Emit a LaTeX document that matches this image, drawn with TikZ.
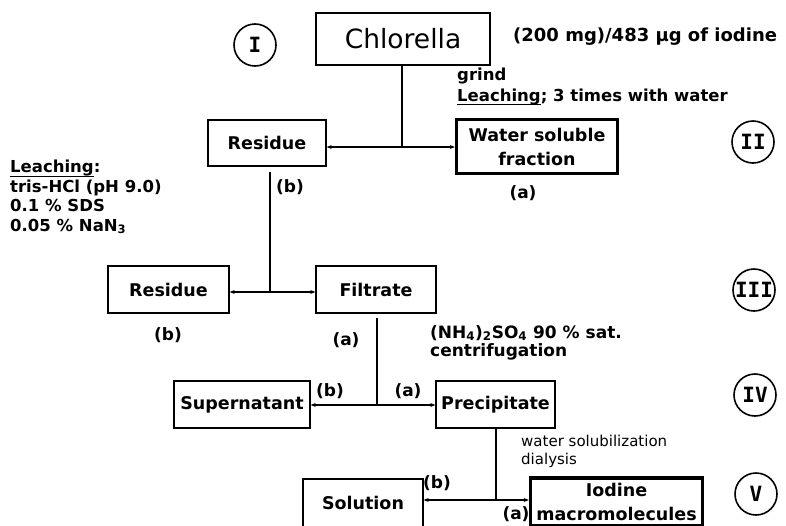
\documentclass[tikz,border=0pt]{standalone}
\usepackage{fontspec}
\setmainfont{DejaVu Sans}
\newfontfamily\numfont{DejaVu Sans Mono}
\usetikzlibrary{arrows.meta}
\newcommand\myul[1]{\setbox0\hbox{#1}\rlap{\rule[-4.2pt]{\wd0}{0.9pt}}\box0}
\begin{document}
\begin{tikzpicture}[x=1pt,y=-1pt,
  box/.style={draw, line width=1.4pt, inner sep=0pt, font=\bfseries\fontsize{17.5}{24}\selectfont, align=center},
  thickbox/.style={box, line width=3.4pt},
  stage/.style={draw, circle, line width=1.6pt, minimum size=42pt, inner sep=0pt, font=\numfont\bfseries\fontsize{21}{22}\selectfont},
  lab/.style={font=\bfseries\fontsize{17}{18}\selectfont, inner sep=0pt},
  note/.style={font=\bfseries\fontsize{16.5}{19.5}\selectfont, inner sep=0pt, anchor=west, align=left},
  thin/.style={font=\fontsize{15}{19}\selectfont, inner sep=0pt, anchor=west, align=left},
  conn/.style={line width=1.1pt},
  darr/.style={conn, {Stealth[length=5pt,width=4pt]}-{Stealth[length=5pt,width=4pt]}}
]
\clip (0,0) rectangle (786,525);
\fill[white] (0,0) rectangle (786,525);

% boxes
\node[box, minimum width=174pt, minimum height=52pt, font=\fontsize{26.5}{30}\selectfont] (chl) at (403,39) {Chlorella};
\node[box, minimum width=118pt, minimum height=46pt] (res1) at (267,143) {Residue};
\node[thickbox, minimum width=161pt, minimum height=54pt] (water) at (537,146.5) {Water soluble\\fraction};
\node[box, minimum width=121pt, minimum height=47pt] (res2) at (168.5,289.5) {Residue};
\node[box, minimum width=120pt, minimum height=47pt] (filt) at (376,289.5) {Filtrate};
\node[box, minimum width=136pt, minimum height=47pt] (sup) at (242,404.5) {Supernatant};
\node[box, minimum width=119pt, minimum height=47pt] (prec) at (495.5,404.5) {Precipitate};
\node[box, minimum width=120pt, minimum height=48pt] (sol) at (363,503) {Solution};
\node[thickbox, minimum width=172pt, minimum height=48pt] (iod) at (616.5,502) {Iodine\\macromolecules};

% stage circles
\node[stage] (s1) at (255,45) {I};
\node[stage] (s2) at (753,142) {II};
\node[stage] (s3) at (754,290) {III};
\node[stage] (s4) at (755,395) {IV};
\node[stage] (s5) at (756,494) {V};

% junctions
\coordinate (j1) at (402,147);
\coordinate (j2) at (270,292);
\coordinate (j3) at (377,405);
\coordinate (j4) at (496,500);
\coordinate (t2) at (270,172);
\coordinate (t3) at (377,318);

\draw[conn] (chl.south -| j1) -- (j1);
\draw[darr] (res1.east |- j1) -- (water.west |- j1);
\draw[conn] (t2) -- (j2);
\draw[darr] (res2.east |- j2) -- (filt.west |- j2);
\draw[conn] (t3) -- (j3);
\draw[darr] (sup.east |- j3) -- (prec.west |- j3);
\draw[conn] (prec.south -| j4) -- (j4);
\draw[darr] (sol.east |- j4) -- (iod.west |- j4);

% texts
\node[note, font=\bfseries\fontsize{18}{20}\selectfont] (iodine) at (513,37) {(200 mg)/483 μg of iodine};
\node[note] (grind) at (457,76) {grind};
\node[note] (leach1) at (457,97) {\myul{Leaching}; 3 times with water};
\node[note, anchor=north west, font=\bfseries\fontsize{16.5}{19.5}\selectfont] (leach2) at (10,160) {\myul{Leaching}:\\tris-HCl (pH 9.0)\\0.1 \% SDS\\0.05 \% NaN\textsubscript{3}};
\node[note, font=\bfseries\fontsize{17}{19.5}\selectfont] (ammo) at (430,333) {(NH\textsubscript{4})\textsubscript{2}SO\textsubscript{4} 90 \% sat.};
\node[note, font=\bfseries\fontsize{17}{19.5}\selectfont] (centri) at (430,352) {centrifugation};
\node[thin] (wsol) at (521,441) {water solubilization};
\node[thin] (dial) at (521,460) {dialysis};

\node[lab] (la1) at (523,193) {(a)};
\node[lab] (lb1) at (290,187) {(b)};
\node[lab] (lb2) at (168,335) {(b)};
\node[lab] (la2) at (346,340) {(a)};
\node[lab] (lb3) at (330,391) {(b)};
\node[lab] (la3) at (408,391) {(a)};
\node[lab] (lb4) at (437,483) {(b)};
\node[lab] (la4) at (516,514) {(a)};
\end{tikzpicture}
\end{document}
